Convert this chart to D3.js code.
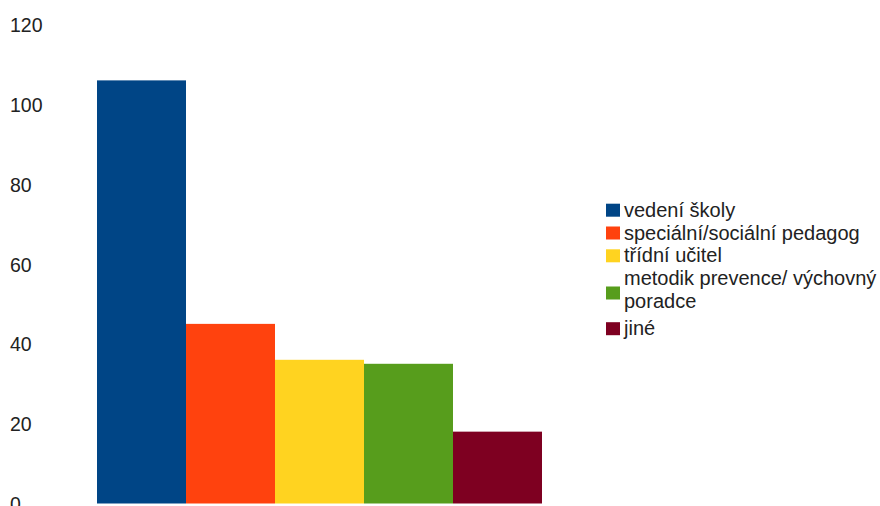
<!DOCTYPE html>
<html>
<head>
<meta charset="utf-8">
<script src="https://cdn.jsdelivr.net/npm/d3@7/dist/d3.min.js"></script>
<style>
  html, body { margin: 0; padding: 0; background: #fff; }
  svg { display: block; }
  text { font-family: "Liberation Sans", Arial, sans-serif; fill: #222; }
</style>
</head>
<body>
<svg id="chart" width="880" height="506"></svg>
<script>
// Who the respondents turn to (counts per category)
const categories = ["vedení školy", "speciální/sociální pedagog", "třídní učitel", "metodik prevence/ výchovný poradce", "jiné"];
const values = [106, 45, 36, 35, 18];
const colors = ["#004586", "#ff420e", "#ffd320", "#579d1c", "#7e0021"];
// Legend text, wrapped into lines
const legendLines = [["vedení školy"], ["speciální/sociální pedagog"], ["třídní učitel"], ["metodik prevence/ výchovný", "poradce"], ["jiné"]];
const yTicks = [0, 20, 40, 60, 80, 100, 120];

const svg = d3.select("#chart");

const x = d3.scaleBand().domain(categories).range([97, 542]).padding(0);
const y = d3.scaleLinear().domain([0, 120]).range([503.5, 24.5]);

// Value axis: labels only, left aligned
const axis = d3.axisLeft(y).tickValues(yTicks).tickSize(0).tickPadding(0);
const gAxis = svg.append("g").attr("transform", "translate(10,0)").call(axis);
gAxis.select(".domain").remove();
gAxis.selectAll("text")
  .attr("text-anchor", "start")
  .attr("x", 0)
  .attr("dy", "0.36em")
  .style("font-family", "'Liberation Sans', Arial, sans-serif")
  .style("font-size", "19.5px")
  .style("fill", "#222");

// Bars
svg.append("g").selectAll("rect")
  .data(categories)
  .join("rect")
  .attr("x", d => x(d))
  .attr("width", x.bandwidth())
  .attr("y", (d, i) => y(values[i]))
  .attr("height", (d, i) => y(0) - y(values[i]))
  .attr("fill", (d, i) => colors[i]);

// Legend: swatch sits on the text baseline; wrapped entries get a centred swatch
const legend = svg.append("g").attr("transform", "translate(606,0)");
const lineH = 22.8;
const wrapGap = 4.5;
let baseY = 216.7;
legendLines.forEach((lines, i) => {
  const firstY = baseY;
  const lastY = baseY + (lines.length - 1) * lineH;
  const swatchBottom = lines.length > 1 ? (firstY + lastY) / 2 + 3 : firstY;
  legend.append("rect")
    .attr("x", 0).attr("y", swatchBottom - 13)
    .attr("width", 14).attr("height", 13)
    .attr("fill", colors[i]);
  const t = legend.append("text")
    .attr("x", 18)
    .style("font-size", "20px");
  lines.forEach((ln, j) => {
    t.append("tspan").attr("x", 18).attr("y", firstY + j * lineH).text(ln);
  });
  baseY = lastY + lineH + (lines.length > 1 ? wrapGap : 0);
});
</script>
</body>
</html>
